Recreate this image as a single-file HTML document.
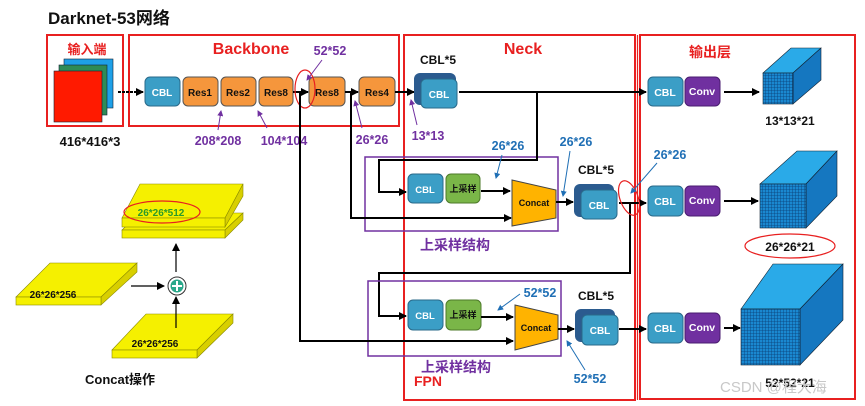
<!DOCTYPE html>
<html><head><meta charset="utf-8"><style>
html,body{margin:0;padding:0;background:#fff;}
svg{display:block;font-family:"Liberation Sans","Noto Sans CJK SC",sans-serif;font-weight:bold;}
</style></head><body>
<svg width="865" height="406" viewBox="0 0 865 406" xmlns="http://www.w3.org/2000/svg">
<defs>
<marker id="ar" markerWidth="8" markerHeight="8" refX="7" refY="4" orient="auto" markerUnits="userSpaceOnUse"><path d="M0,0 L8,4 L0,8 z" fill="#000"/></marker>
<marker id="ab" markerWidth="6" markerHeight="6" refX="5" refY="3" orient="auto" markerUnits="userSpaceOnUse"><path d="M0,0 L6,3 L0,6 z" fill="#1f6fb5"/></marker>
<marker id="ap" markerWidth="6" markerHeight="6" refX="5" refY="3" orient="auto" markerUnits="userSpaceOnUse"><path d="M0,0 L6,3 L0,6 z" fill="#7030a0"/></marker>
<pattern id="grid" width="3" height="3" patternUnits="userSpaceOnUse"><rect width="3" height="3" fill="#1a88d0"/><path d="M0,0 H3 M0,0 V3" stroke="#0a3e74" stroke-width="0.8"/></pattern>
</defs>
<text x="48" y="24" font-size="17" fill="#111">Darknet-53网络</text>
<rect x="47" y="35" width="76" height="91" fill="none" stroke="#e82020" stroke-width="2"/>
<rect x="129" y="35" width="270" height="91" fill="none" stroke="#e82020" stroke-width="2"/>
<rect x="404" y="35" width="231" height="365" fill="none" stroke="#e82020" stroke-width="2"/>
<line x1="637.5" y1="35" x2="637.5" y2="400" stroke="#e82020" stroke-width="1.2"/>
<rect x="640" y="35" width="215" height="364" fill="none" stroke="#e82020" stroke-width="2"/>
<text x="87" y="54" font-size="13" fill="#e82020" text-anchor="middle">输入端</text>
<text x="251" y="54" font-size="16" fill="#e82020" text-anchor="middle">Backbone</text>
<text x="523" y="54" font-size="16" fill="#e82020" text-anchor="middle">Neck</text>
<text x="710" y="57" font-size="14" fill="#e82020" text-anchor="middle">输出层</text>
<rect x="64" y="59" width="49" height="49" fill="#1ea0e8" stroke="#123" stroke-width="0.6"/>
<rect x="59" y="65" width="48" height="50" fill="#2e8b57" stroke="#123" stroke-width="0.6"/>
<rect x="54" y="71" width="48" height="51" fill="#ff1a00" stroke="#123" stroke-width="0.6"/>
<text x="90" y="146" font-size="13" fill="#111" text-anchor="middle">416*416*3</text>
<line x1="118" y1="92" x2="143" y2="92" stroke="#000" stroke-width="2" stroke-dasharray="3,1" marker-end="url(#ar)"/>
<g font-size="10" text-anchor="middle">
<rect x="145" y="77" width="35" height="29" rx="5" fill="#3b9ec6" stroke="#2a6a8a"/><text x="162" y="96" fill="#fff">CBL</text>
<rect x="183" y="77" width="35" height="29" rx="5" fill="#f5963c" stroke="#555"/><text x="200" y="96" fill="#111">Res1</text>
<rect x="221" y="77" width="35" height="29" rx="5" fill="#f5963c" stroke="#555"/><text x="238" y="96" fill="#111">Res2</text>
<rect x="259" y="77" width="34" height="29" rx="5" fill="#f5963c" stroke="#555"/><text x="276" y="96" fill="#111">Res8</text>
<rect x="309" y="77" width="36" height="29" rx="5" fill="#f5963c" stroke="#555"/><text x="327" y="96" fill="#111">Res8</text>
<rect x="359" y="77" width="36" height="29" rx="5" fill="#f5963c" stroke="#555"/><text x="377" y="96" fill="#111">Res4</text>
</g>
<line x1="293" y1="92" x2="308" y2="92" stroke="#000" stroke-width="2" marker-end="url(#ar)"/>
<line x1="345" y1="92" x2="358" y2="92" stroke="#000" stroke-width="2" marker-end="url(#ar)"/>
<line x1="395" y1="92" x2="414" y2="92" stroke="#000" stroke-width="2" marker-end="url(#ar)"/>
<ellipse cx="305" cy="89" rx="10" ry="19" fill="none" stroke="#e82020" stroke-width="1.2"/>
<g font-size="12.5" fill="#7030a0" text-anchor="middle">
<text x="330" y="55">52*52</text>
<text x="218" y="145">208*208</text>
<text x="284" y="145">104*104</text>
<text x="372" y="144">26*26</text>
<text x="428" y="140">13*13</text>
</g>
<g stroke="#7030a0" stroke-width="1" fill="none">
<line x1="322" y1="60" x2="307" y2="80" marker-end="url(#ap)"/>
<line x1="218" y1="130" x2="221" y2="111" marker-end="url(#ap)"/>
<line x1="267" y1="128" x2="258" y2="111" marker-end="url(#ap)"/>
<line x1="362" y1="128" x2="355" y2="101" marker-end="url(#ap)"/>
<line x1="417" y1="125" x2="411" y2="100" marker-end="url(#ap)"/>
</g>
<text x="438" y="64" font-size="12" fill="#111" text-anchor="middle">CBL*5</text>
<rect x="414" y="73" width="42" height="32" rx="6" fill="#2b5b8f"/>
<rect x="421" y="79" width="36" height="29" rx="5" fill="#3b9ec6" stroke="#2a6a8a"/><text x="439" y="98" font-size="10" fill="#fff" text-anchor="middle">CBL</text>
<line x1="459" y1="92" x2="646" y2="92" stroke="#000" stroke-width="2" marker-end="url(#ar)"/>
<g font-size="10.5" text-anchor="middle" fill="#fff">
<rect x="648" y="77" width="35" height="29" rx="5" fill="#3b9ec6" stroke="#2a6a8a"/><text x="665" y="96">CBL</text>
<rect x="685" y="77" width="35" height="29" rx="5" fill="#7030a0" stroke="#4a1d70"/><text x="702" y="95">Conv</text>
<rect x="648" y="186" width="35" height="30" rx="5" fill="#3b9ec6" stroke="#2a6a8a"/><text x="665" y="205">CBL</text>
<rect x="685" y="186" width="35" height="30" rx="5" fill="#7030a0" stroke="#4a1d70"/><text x="702" y="204">Conv</text>
<rect x="648" y="313" width="35" height="30" rx="5" fill="#3b9ec6" stroke="#2a6a8a"/><text x="665" y="332">CBL</text>
<rect x="685" y="313" width="35" height="30" rx="5" fill="#7030a0" stroke="#4a1d70"/><text x="702" y="331">Conv</text>
</g>
<line x1="724" y1="92" x2="759" y2="92" stroke="#000" stroke-width="2" marker-end="url(#ar)"/>
<line x1="724" y1="201" x2="758" y2="201" stroke="#000" stroke-width="2" marker-end="url(#ar)"/>
<line x1="724" y1="328" x2="740" y2="328" stroke="#000" stroke-width="2" marker-end="url(#ar)"/>
<polygon points="763,73 791,48 821,48 793,73" fill="#2aaae8" stroke="#123" stroke-width="0.6"/>
<polygon points="793,73 821,48 821,80 793,104" fill="#1577c0" stroke="#123" stroke-width="0.6"/>
<rect x="763" y="73" width="30" height="31" fill="url(#grid)" stroke="#123" stroke-width="0.6"/>
<polygon points="760,184 797,151 837,151 806,184" fill="#2aaae8" stroke="#123" stroke-width="0.6"/>
<polygon points="806,184 837,151 837,196 806,228" fill="#1577c0" stroke="#123" stroke-width="0.6"/>
<rect x="760" y="184" width="46" height="44" fill="url(#grid)" stroke="#123" stroke-width="0.6"/>
<polygon points="741,309 773,264 843,264 800,309" fill="#2aaae8" stroke="#123" stroke-width="0.6"/>
<polygon points="800,309 843,264 843,320 800,365" fill="#1577c0" stroke="#123" stroke-width="0.6"/>
<rect x="741" y="309" width="59" height="56" fill="url(#grid)" stroke="#123" stroke-width="0.6"/>
<g font-size="12" fill="#111" text-anchor="middle">
<text x="790" y="125">13*13*21</text>
<text x="790" y="251">26*26*21</text>
<text x="790" y="387">52*52*21</text>
</g>
<ellipse cx="790" cy="246" rx="45" ry="12" fill="none" stroke="#e82020" stroke-width="1.2"/>
<rect x="365" y="157" width="193" height="74" fill="none" stroke="#7030a0" stroke-width="1.5"/>
<text x="455" y="250" font-size="14" fill="#7030a0" text-anchor="middle">上采样结构</text>
<polyline points="537,92 537,160 379,160 379,192 406,192" fill="none" stroke="#000" stroke-width="2" marker-end="url(#ar)"/>
<polyline points="351,92 351,218 511,218" fill="none" stroke="#000" stroke-width="2" marker-end="url(#ar)"/>
<rect x="408" y="174" width="35" height="29" rx="5" fill="#3b9ec6" stroke="#2a6a8a"/><text x="425" y="193" font-size="9.5" fill="#fff" text-anchor="middle">CBL</text>
<rect x="446" y="174" width="34" height="29" rx="5" fill="#7ab648" stroke="#4d7a2a"/><text x="463" y="192" font-size="9" fill="#111" text-anchor="middle">上采样</text>
<line x1="481" y1="191" x2="510" y2="191" stroke="#000" stroke-width="2" marker-end="url(#ar)"/>
<polygon points="512,180 556,190 556,218 512,226" fill="#ffb300" stroke="#444"/>
<text x="534" y="206" font-size="9" fill="#111" text-anchor="middle">Concat</text>
<line x1="556" y1="202" x2="573" y2="202" stroke="#000" stroke-width="2" marker-end="url(#ar)"/>
<text x="596" y="174" font-size="12" fill="#111" text-anchor="middle">CBL*5</text>
<rect x="574" y="184" width="40" height="33" rx="6" fill="#2b5b8f"/>
<rect x="581" y="190" width="36" height="29" rx="5" fill="#3b9ec6" stroke="#2a6a8a"/><text x="599" y="209" font-size="10" fill="#fff" text-anchor="middle">CBL</text>
<polyline points="619,203 646,203" fill="none" stroke="#000" stroke-width="2" marker-end="url(#ar)"/>
<polyline points="630,203 630,273 379,273 379,316 406,316" fill="none" stroke="#000" stroke-width="2" marker-end="url(#ar)"/>
<ellipse cx="629" cy="198" rx="9" ry="18" fill="none" stroke="#e82020" stroke-width="1.2" transform="rotate(-20 629 198)"/>
<g font-size="12.5" fill="#1f6fb5" text-anchor="middle">
<text x="508" y="150">26*26</text>
<text x="576" y="146">26*26</text>
<text x="670" y="159">26*26</text>
<text x="540" y="297">52*52</text>
<text x="590" y="383">52*52</text>
</g>
<g stroke="#1f6fb5" stroke-width="1" fill="none">
<line x1="502" y1="155" x2="496" y2="178" marker-end="url(#ab)"/>
<line x1="570" y1="151" x2="563" y2="196" marker-end="url(#ab)"/>
<line x1="657" y1="163" x2="631" y2="193" marker-end="url(#ab)"/>
<line x1="520" y1="294" x2="498" y2="310" marker-end="url(#ab)"/>
<line x1="585" y1="370" x2="567" y2="341" marker-end="url(#ab)"/>
</g>
<rect x="368" y="281" width="193" height="75" fill="none" stroke="#7030a0" stroke-width="1.5"/>
<text x="456" y="372" font-size="14" fill="#7030a0" text-anchor="middle">上采样结构</text>
<text x="414" y="386" font-size="14" fill="#e82020">FPN</text>
<polyline points="300,92 300,341 513,341" fill="none" stroke="#000" stroke-width="2" marker-end="url(#ar)"/>
<rect x="408" y="300" width="35" height="30" rx="5" fill="#3b9ec6" stroke="#2a6a8a"/><text x="425" y="319" font-size="9.5" fill="#fff" text-anchor="middle">CBL</text>
<rect x="446" y="300" width="35" height="30" rx="5" fill="#7ab648" stroke="#4d7a2a"/><text x="463" y="318" font-size="9" fill="#111" text-anchor="middle">上采样</text>
<line x1="481" y1="317" x2="513" y2="317" stroke="#000" stroke-width="2" marker-end="url(#ar)"/>
<polygon points="515,305 558,315 558,339 515,350" fill="#ffb300" stroke="#444"/>
<text x="536" y="331" font-size="9" fill="#111" text-anchor="middle">Concat</text>
<line x1="558" y1="329" x2="574" y2="329" stroke="#000" stroke-width="2" marker-end="url(#ar)"/>
<text x="596" y="300" font-size="12" fill="#111" text-anchor="middle">CBL*5</text>
<rect x="575" y="309" width="40" height="33" rx="6" fill="#2b5b8f"/>
<rect x="582" y="315" width="36" height="30" rx="5" fill="#3b9ec6" stroke="#2a6a8a"/><text x="600" y="334" font-size="10" fill="#fff" text-anchor="middle">CBL</text>
<line x1="619" y1="329" x2="646" y2="329" stroke="#000" stroke-width="2" marker-end="url(#ar)"/>
<g stroke="#8a8a00" stroke-width="0.6">
<polygon points="122,230 140,213 243,213 225,230" fill="#f5f000"/>
<polygon points="225,230 243,213 243,220 225,238" fill="#d8cf00"/>
<rect x="122" y="230" width="103" height="8" fill="#f5f000"/>
<polygon points="122,218 140,184 243,184 225,218" fill="#f5f000"/>
<polygon points="225,218 243,184 243,196 225,227" fill="#d8cf00"/>
<rect x="122" y="218" width="103" height="9" fill="#f5f000"/>
<polygon points="16,297 50,263 137,263 101,297" fill="#f5f000"/>
<polygon points="101,297 137,263 137,272 101,305" fill="#d8cf00"/>
<rect x="16" y="297" width="85" height="8" fill="#f5f000"/>
<polygon points="112,350 146,314 233,314 197,350" fill="#f5f000"/>
<polygon points="197,350 233,314 233,323 197,358" fill="#d8cf00"/>
<rect x="112" y="350" width="85" height="8" fill="#f5f000"/>
</g>
<text x="161" y="216" font-size="10" fill="#2a9a2a" text-anchor="middle">26*26*512</text>
<ellipse cx="162" cy="212" rx="38" ry="11" fill="none" stroke="#e82020" stroke-width="1.2"/>
<text x="53" y="298" font-size="10" fill="#111" text-anchor="middle">26*26*256</text>
<text x="155" y="347" font-size="10" fill="#111" text-anchor="middle">26*26*256</text>
<line x1="131" y1="286" x2="164" y2="286" stroke="#000" stroke-width="1.2" marker-end="url(#ar)"/>
<line x1="176" y1="328" x2="176" y2="297" stroke="#000" stroke-width="1.2" marker-end="url(#ar)"/>
<line x1="176" y1="272" x2="176" y2="244" stroke="#000" stroke-width="1.2" marker-end="url(#ar)"/>
<circle cx="177" cy="286" r="9" fill="#fff" stroke="#333"/>
<circle cx="177" cy="286" r="6.5" fill="#2aa88a"/>
<path d="M177,281 V291 M172,286 H182" stroke="#fff" stroke-width="2"/>
<text x="85" y="384" font-size="13" fill="#111">Concat操作</text>
<text x="720" y="392" font-size="15" font-weight="normal" fill="#c8c8c8">CSDN @程大海</text>
</svg>
</body></html>
